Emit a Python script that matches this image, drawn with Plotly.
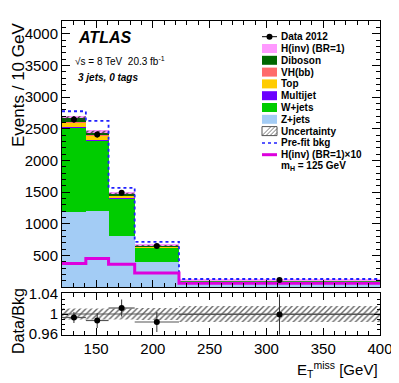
import plotly.graph_objects as go

# bin edges in E_T^miss [GeV]
edges = [120, 141, 161, 184, 223, 400]

# stacked backgrounds (events / 10 GeV), bottom to top
z_jets = [1187, 1203, 804, 390, 62]
w_jets = [1331, 1115, 595, 230, 38]
multijet = [10, 8, 5, 3, 1]
top = [70, 60, 40, 20, 4]
vh_bb = [8, 8, 5, 4, 2]
diboson = [60, 45, 21, 10, 3]
h_inv = [37, 45, 36, 22, 6]

data = [2645, 2408, 1487, 647, 110]
prefit = [2775, 2623, 1566, 714, 126]
bkg_unc = [30, 28, 17, 8, 2]

# lower panel
ratio = [0.993, 0.987, 1.012, 0.984, 0.999]
ratio_err = [0.011, 0.015, 0.017, 0.020, 0.040]
ratio_band = [0.011, 0.011, 0.011, 0.012, 0.016]

FONT = "Liberation Sans, Arial, sans-serif"
# the page body has an 8px margin, so the figure is made 8px smaller and
# everything below is given in window pixels
OFF = 8
W, H = 399 - OFF, 383 - OFF
L, R, T, B = 62, 380, 21, 335   # plot area in window pixels


def px(x):
    return (x - L) / (R - L)


def py(y):
    return (B - y) / (B - T)


centers = [(a + b) / 2 for a, b in zip(edges[:-1], edges[1:])]
widths = [b - a for a, b in zip(edges[:-1], edges[1:])]

stack = [
    ("Z+jets", z_jets, "#a3ccf5"),
    ("W+jets", w_jets, "#00cc00"),
    ("Multijet", multijet, "#6a00ff"),
    ("Top", top, "#ffcc00"),
    ("VH(bb)", vh_bb, "#ff6b6b"),
    ("Diboson", diboson, "#006600"),
    ("H(inv) (BR=1)", h_inv, "#ff99ff"),
]

fig = go.Figure()
for name, vals, col in stack:
    fig.add_trace(go.Bar(x=centers, y=vals, width=widths, name=name,
                         marker=dict(color=col, line=dict(width=0)),
                         xaxis="x", yaxis="y", showlegend=False))

# background uncertainty band (hatched)
bkg = [sum(v) for v in zip(z_jets, w_jets, multijet, top, vh_bb, diboson)]


def band(lo, hi):
    xs, ys = [], []
    for i in range(len(lo)):
        a, b = edges[i], edges[i + 1]
        xs += [a, b, b, a, a, None]
        ys += [lo[i], lo[i], hi[i], hi[i], lo[i], None]
    return xs, ys


bx, by = band([b - u for b, u in zip(bkg, bkg_unc)], [b + u for b, u in zip(bkg, bkg_unc)])
fig.add_trace(go.Scatter(x=bx, y=by, mode="lines", fill="toself", line=dict(width=0),
                         fillcolor="rgba(0,0,0,0)",
                         fillpattern=dict(shape="/", fgcolor="#333333", bgcolor="rgba(0,0,0,0)",
                                          size=4, solidity=0.3),
                         showlegend=False, xaxis="x", yaxis="y", hoverinfo="skip"))

fig.add_trace(go.Scatter(x=edges, y=prefit + [prefit[-1]], mode="lines", line_shape="hv",
                         line=dict(color="#2020ff", width=1.8, dash="dot"),
                         showlegend=False, xaxis="x", yaxis="y"))
sig10 = [10 * v for v in h_inv]
fig.add_trace(go.Scatter(x=edges, y=sig10 + [sig10[-1]], mode="lines", line_shape="hv",
                         line=dict(color="#dd00dd", width=3),
                         showlegend=False, xaxis="x", yaxis="y"))
fig.add_trace(go.Scatter(x=centers, y=data, mode="markers",
                         marker=dict(color="black", size=6),
                         error_y=dict(type="data", array=[d ** 0.5 for d in data],
                                      color="black", thickness=1, width=0),
                         showlegend=False, xaxis="x", yaxis="y"))

# ratio panel
rx, ry = band([1 - u for u in ratio_band], [1 + u for u in ratio_band])
fig.add_trace(go.Scatter(x=rx, y=ry, mode="lines", fill="toself", line=dict(width=0),
                         fillcolor="rgba(0,0,0,0)",
                         fillpattern=dict(shape="/", fgcolor="#666666", bgcolor="rgba(0,0,0,0)",
                                          size=4, solidity=0.35),
                         showlegend=False, xaxis="x2", yaxis="y2", hoverinfo="skip"))
fig.add_trace(go.Scatter(x=[edges[0], edges[-1]], y=[1, 1], mode="lines",
                         line=dict(color="#555555", width=1),
                         showlegend=False, xaxis="x2", yaxis="y2"))
fig.add_trace(go.Scatter(x=centers, y=ratio, mode="markers",
                         marker=dict(color="black", size=6),
                         error_x=dict(type="data", array=[w / 2 for w in widths],
                                      color="#555555", thickness=1.2, width=0),
                         error_y=dict(type="data", array=ratio_err,
                                      color="#333333", thickness=1, width=0),
                         showlegend=False, xaxis="x2", yaxis="y2", cliponaxis=True))

ax = dict(showline=True, linecolor="black", linewidth=1, mirror="allticks",
          ticks="inside", tickcolor="black", showgrid=False, zeroline=False,
          automargin=False, tickfont=dict(family=FONT, size=15, color="black"))

main_bottom = py(287)
ratio_top = py(293)

fig.update_layout(
    template="none",
    width=W, height=H,
    margin=dict(l=L - OFF, r=W - (R - OFF), t=T - OFF, b=H - (B - OFF), autoexpand=False),
    paper_bgcolor="white", plot_bgcolor="white",
    barmode="stack", bargap=0,
    font=dict(family=FONT, color="black"),
    xaxis=dict(ax, domain=[0, 1], anchor="y", range=[edges[0], edges[-1]],
               tick0=100, dtick=50, ticklen=7, showticklabels=False,
               minor=dict(dtick=10, ticklen=4, ticks="inside", tickcolor="black")),
    yaxis=dict(ax, domain=[main_bottom, 1], anchor="x", range=[0, 4200],
               tickvals=[500, 1000, 1500, 2000, 2500, 3000, 3500, 4000], ticklen=8,
               minor=dict(dtick=100, ticklen=4, ticks="inside", tickcolor="black")),
    xaxis2=dict(ax, domain=[0, 1], anchor="y2", range=[edges[0], edges[-1]],
                tick0=100, dtick=50, ticklen=7,
                minor=dict(dtick=10, ticklen=4, ticks="inside", tickcolor="black")),
    yaxis2=dict(ax, domain=[0, ratio_top], anchor="x2", range=[0.958, 1.042],
                tickvals=[0.96, 1, 1.04], ticktext=["0.96", "1", "1.04"], ticklen=6,
                minor=dict(dtick=0.01, ticklen=3, ticks="inside", tickcolor="black")),
)

ann = []
ann.append(dict(x=px(76), y=py(38), text="<b><i>ATLAS</i></b>", xanchor="left", yanchor="middle",
                font=dict(size=16)))
ann.append(dict(x=px(73), y=py(61), text="\u221as = 8 TeV  20.3 fb<sup>-1</sup>", xanchor="left",
                yanchor="middle", font=dict(size=10)))
ann.append(dict(x=px(76), y=py(78), text="<b><i>3 jets, 0 tags</i></b>", xanchor="left",
                yanchor="middle", font=dict(size=10)))
ann.append(dict(x=px(18), y=1, text="Events / 10 GeV", textangle=-90, xanchor="center",
                yanchor="top", font=dict(size=17)))
ann.append(dict(x=px(18), y=py(321), text="Data/Bkg", textangle=-90, xanchor="center",
                yanchor="middle", font=dict(size=16)))
ann.append(dict(x=px(380), y=py(369), text="E<sub>T</sub><sup>miss</sup> [GeV]", xanchor="right",
                yanchor="middle", font=dict(size=15)))

# legend drawn by hand so the rows can be packed as tightly as the original
legend_rows = ["Data 2012", "H(inv) (BR=1)", "Diboson", "VH(bb)", "Top", "Multijet",
               "W+jets", "Z+jets", "Uncertainty", "Pre-fit bkg", "H(inv) (BR=1)\u00d710",
               "m<sub>H</sub> = 125 GeV"]
box_colors = {name: col for name, _, col in stack}
shapes = []
x0, x1 = 262, 277
for i, label in enumerate(legend_rows):
    yc = 36.7 + i * 11.8
    ann.append(dict(x=px(279), y=py(yc), text="<b>" + label + "</b>", xanchor="left",
                    yanchor="middle", font=dict(size=10)))
    if label == "Data 2012":
        shapes.append(dict(type="line", x0=px(x0), x1=px(x1), y0=py(yc), y1=py(yc),
                           line=dict(color="black", width=1)))
        shapes.append(dict(type="circle", x0=px(266.5), x1=px(272.5), y0=py(yc - 3), y1=py(yc + 3),
                           fillcolor="black", line=dict(width=0)))
    elif label in box_colors:
        shapes.append(dict(type="rect", x0=px(x0), x1=px(x1), y0=py(yc - 4.5), y1=py(yc + 4.5),
                           fillcolor=box_colors[label], line=dict(width=0)))
    elif label == "Uncertainty":
        shapes.append(dict(type="rect", x0=px(x0), x1=px(x1), y0=py(yc - 4.5), y1=py(yc + 4.5),
                           fillcolor="white", line=dict(color="#555555", width=1)))
        for k in range(4):
            a = x0 + k * 4
            shapes.append(dict(type="line", x0=px(a), x1=px(min(a + 9, x1)),
                               y0=py(yc + 4.5), y1=py(yc + 4.5 - (min(a + 9, x1) - a)),
                               line=dict(color="#555555", width=0.8)))
    elif label == "Pre-fit bkg":
        shapes.append(dict(type="line", x0=px(x0), x1=px(x1), y0=py(yc), y1=py(yc),
                           line=dict(color="#2020ff", width=1.5, dash="dot")))
    elif label.startswith("H(inv) (BR=1)\u00d7"):
        shapes.append(dict(type="line", x0=px(x0), x1=px(x1), y0=py(yc), y1=py(yc),
                           line=dict(color="#dd00dd", width=3)))

for a in ann:
    a.update(xref="paper", yref="paper", showarrow=False)
    a.setdefault("font", {}).update(family=FONT, color="black")
for s in shapes:
    s.update(xref="paper", yref="paper")

fig.update_layout(annotations=ann, shapes=shapes)
fig.write_html("out.html")
